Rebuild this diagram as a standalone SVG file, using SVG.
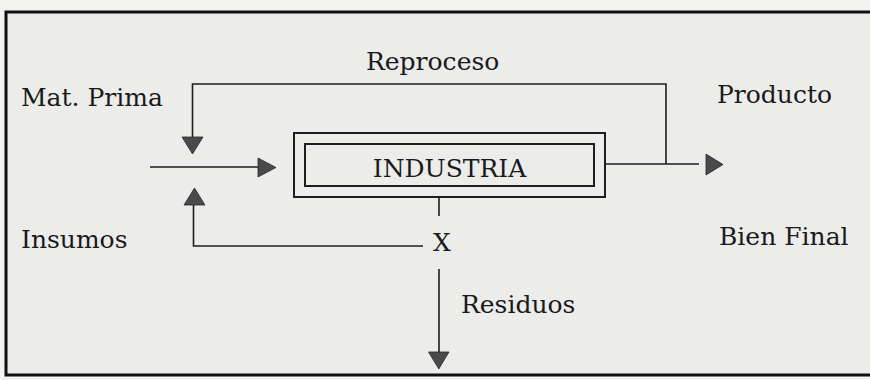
<svg xmlns="http://www.w3.org/2000/svg" width="870" height="380" viewBox="0 0 870 380">
  <defs>
    <style>
      .lbl { font-family: "DejaVu Serif", "Liberation Serif", serif; font-size: 25px; fill: #1a1a1a; }
      .ln { fill: none; stroke: #1e1e1e; stroke-width: 1.6; }
      .box { fill: none; stroke: #1e1e1e; stroke-width: 2; }
      .ah { fill: #4a4a4a; stroke: #2a2a2a; stroke-width: 0.8; }
    </style>
  </defs>
  <rect x="0" y="0" width="870" height="380" fill="#f3f3f1"/>
  <rect x="6" y="12" width="880" height="363" fill="#ececea" stroke="#111" stroke-width="3"/>

  <g id="industria">
    <rect class="box" x="294" y="133" width="311" height="64"/>
    <rect class="box" x="305" y="144" width="289" height="42"/>
    <text class="lbl" x="449.5" y="177" text-anchor="middle">INDUSTRIA</text>
  </g>
  <g id="mat-prima"><text class="lbl" x="21" y="106">Mat. Prima</text></g>
  <g id="reproceso"><text class="lbl" x="366" y="70">Reproceso</text></g>
  <g id="producto"><text class="lbl" x="717" y="103">Producto</text></g>
  <g id="insumos"><text class="lbl" x="21" y="248">Insumos</text></g>
  <g id="bien-final"><text class="lbl" x="719" y="245">Bien Final</text></g>
  <g id="x-node"><text class="lbl" x="433" y="251">X</text></g>
  <g id="residuos"><text class="lbl" x="461" y="313">Residuos</text></g>

  <g id="connectors">
    <polyline class="ln" points="666,164 666,84 192.5,84 192.5,138"/>
    <polygon class="ah" points="182,137 203,137 192.5,154"/>
    <line class="ln" x1="150" y1="167" x2="259" y2="167"/>
    <polygon class="ah" points="258,158 258,177 276,167.5"/>
    <line class="ln" x1="605" y1="164" x2="699" y2="164"/>
    <polygon class="ah" points="706,154 706,175 723,164.5"/>
    <polyline class="ln" points="423,246 193.5,246 193.5,204"/>
    <polygon class="ah" points="184,205 205,205 194.5,188"/>
    <line class="ln" x1="439" y1="197" x2="439" y2="216"/>
    <line class="ln" x1="439" y1="269" x2="439" y2="353"/>
    <polygon class="ah" points="428.5,352 449,352 438.8,369"/>
  </g>
</svg>
